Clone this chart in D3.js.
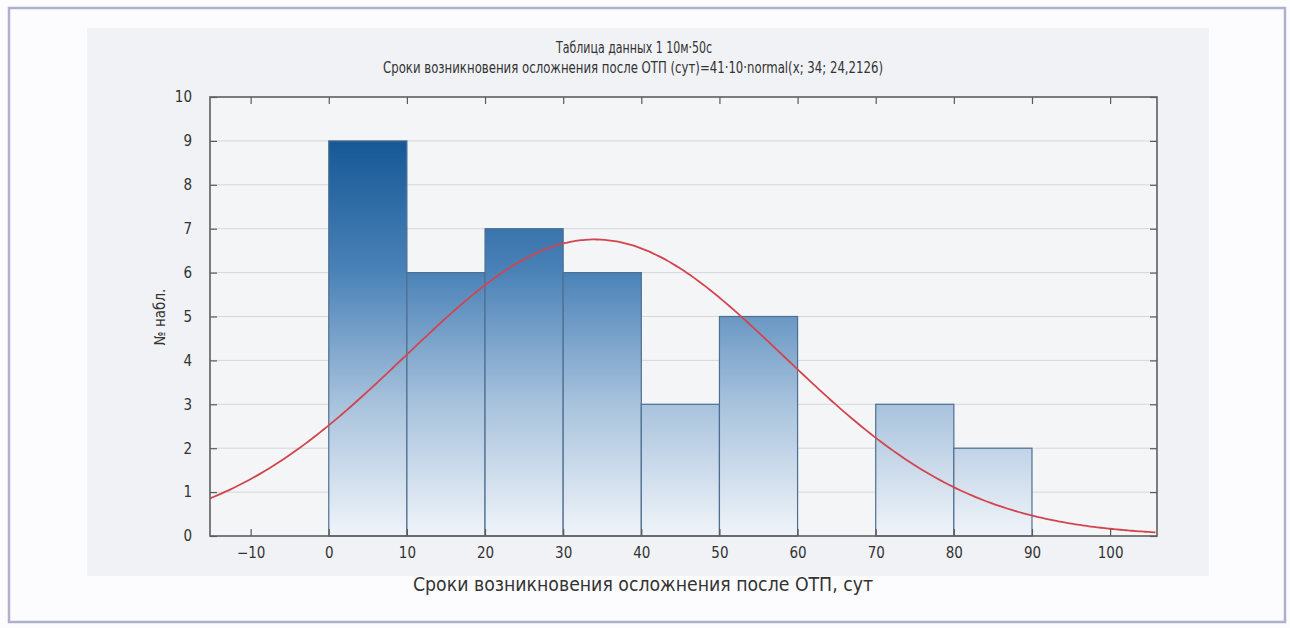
<!DOCTYPE html>
<html>
<head>
<meta charset="utf-8">
<script src="https://cdn.jsdelivr.net/npm/d3@7/dist/d3.min.js"></script>
<style>
  html, body { margin: 0; padding: 0; background: #fcfcfe; }
  svg { display: block; }
  text { font-family: "Liberation Sans Narrow", "DejaVu Sans Condensed", "Liberation Sans", sans-serif; fill: #333; }
</style>
</head>
<body>
<svg id="chart" width="1290" height="628"></svg>
<script>
// Histogram bins (days) and observation counts
const binStarts = [0, 10, 20, 30, 40, 50, 60, 70, 80];
const binWidth = 10;
const counts = [9, 6, 7, 6, 3, 5, 0, 3, 2];

// Fitted normal curve parameters: N * width * normal(x; mean; sd)
const fitN = 41;
const fitMean = 34;
const fitSd = 24.2126;

const xTicks = [-10, 0, 10, 20, 30, 40, 50, 60, 70, 80, 90, 100];
const yTicks = [0, 1, 2, 3, 4, 5, 6, 7, 8, 9, 10];

const titleLine1 = "Таблица данных 1 10м·50с";
const titleLine2 = "Сроки возникновения осложнения после ОТП (сут)=41·10·normal(x; 34; 24,2126)";
const xTitle = "Сроки возникновения осложнения после ОТП, сут";
const yTitle = "№ набл.";

const svg = d3.select("#chart");

// Outer frame and inner panel
svg.append("rect").attr("x", 9).attr("y", 8).attr("width", 1276).attr("height", 614)
  .attr("fill", "#fcfcfe").attr("stroke", "#aeb0cc").attr("stroke-width", 2.5);
svg.append("rect").attr("x", 87).attr("y", 28).attr("width", 1122).attr("height", 548)
  .attr("fill", "#f0f2f5");

const plotL = 210, plotR = 1157, plotT = 97, plotB = 536;
const x = d3.scaleLinear().domain([-15.2, 106]).range([plotL, plotR]);
const y = d3.scaleLinear().domain([0, 10]).range([plotB, plotT]);

const defs = svg.append("defs");
const grad = defs.append("linearGradient").attr("id", "barFill")
  .attr("gradientUnits", "userSpaceOnUse")
  .attr("x1", 0).attr("x2", 0).attr("y1", y(9)).attr("y2", y(0));
[[0, "#165896"], [0.33, "#4a82b7"], [0.67, "#a9c3dd"], [1, "#f0f4f9"]].forEach(([o, c]) =>
  grad.append("stop").attr("offset", o).attr("stop-color", c));
defs.append("clipPath").attr("id", "plotClip").append("rect")
  .attr("x", plotL).attr("y", plotT).attr("width", plotR - plotL).attr("height", plotB - plotT);

// Plot background
svg.append("rect").attr("x", plotL).attr("y", plotT).attr("width", plotR - plotL).attr("height", plotB - plotT)
  .attr("fill", "#f4f5f7");

// Horizontal grid
svg.append("g").selectAll("line").data(yTicks.slice(1, -1)).join("line")
  .attr("x1", plotL).attr("x2", plotR).attr("y1", d => y(d)).attr("y2", d => y(d))
  .attr("stroke", "#d6d7da").attr("stroke-width", 1);

// Bars
const bins = binStarts.map((s, i) => ({ x0: s, x1: s + binWidth, n: counts[i] })).filter(d => d.n > 0);
svg.append("g").selectAll("rect").data(bins).join("rect")
  .attr("x", d => x(d.x0)).attr("width", d => x(d.x1) - x(d.x0))
  .attr("y", d => y(d.n)).attr("height", d => y(0) - y(d.n))
  .attr("fill", "url(#barFill)").attr("stroke", "#4d6f91").attr("stroke-width", 1.2);

// Fitted normal curve
const pdf = v => fitN * binWidth * Math.exp(-0.5 * ((v - fitMean) / fitSd) ** 2) / (fitSd * Math.sqrt(2 * Math.PI));
const xs = d3.range(-15.2, 106.01, 0.5);
svg.append("path").datum(xs)
  .attr("clip-path", "url(#plotClip)")
  .attr("d", d3.line().x(d => x(d)).y(d => y(pdf(d))).curve(d3.curveBasis))
  .attr("fill", "none").attr("stroke", "#d2454f").attr("stroke-width", 1.8);

// Axes with inward ticks on all four sides
const tickColor = "#5a5a5a";
function styleAxis(g) {
  g.select(".domain").remove();
  g.selectAll(".tick line").attr("stroke", tickColor).attr("stroke-width", 1.2);
  g.selectAll(".tick text").style("font-size", "15px").attr("fill", "#3a3a3a");
}
svg.append("g").attr("transform", `translate(0,${plotB})`)
  .call(d3.axisBottom(x).tickValues(xTicks).tickSizeInner(-7).tickSizeOuter(0).tickPadding(11)
    .tickFormat(d => d < 0 ? "−" + Math.abs(d) : d))
  .call(styleAxis);
svg.append("g").attr("transform", `translate(0,${plotT})`)
  .call(d3.axisTop(x).tickValues(xTicks).tickSizeInner(-7).tickSizeOuter(0).tickFormat(""))
  .call(styleAxis);
svg.append("g").attr("transform", `translate(${plotL},0)`)
  .call(d3.axisLeft(y).tickValues(yTicks).tickSizeInner(-7).tickSizeOuter(0).tickPadding(18))
  .call(styleAxis);
svg.append("g").attr("transform", `translate(${plotR},0)`)
  .call(d3.axisRight(y).tickValues(yTicks).tickSizeInner(-7).tickSizeOuter(0).tickFormat(""))
  .call(styleAxis);

// Plot frame
svg.append("rect").attr("x", plotL).attr("y", plotT).attr("width", plotR - plotL).attr("height", plotB - plotT)
  .attr("fill", "none").attr("stroke", "#5e5e5e").attr("stroke-width", 1.6);

// Titles (condensed to the narrow face widths)
svg.append("text").attr("x", 634).attr("y", 53).attr("text-anchor", "middle")
  .attr("textLength", 156).attr("lengthAdjust", "spacingAndGlyphs")
  .style("font-size", "15px").text(titleLine1);
svg.append("text").attr("x", 633).attr("y", 73).attr("text-anchor", "middle")
  .attr("textLength", 500).attr("lengthAdjust", "spacingAndGlyphs")
  .style("font-size", "15px").text(titleLine2);
svg.append("text").attr("x", 643).attr("y", 591).attr("text-anchor", "middle")
  .attr("textLength", 460).attr("lengthAdjust", "spacingAndGlyphs")
  .style("font-size", "19px").text(xTitle);
svg.append("text").attr("transform", "translate(165,317) rotate(-90)").attr("text-anchor", "middle")
  .style("font-size", "15px").text(yTitle);
</script>
</body>
</html>
